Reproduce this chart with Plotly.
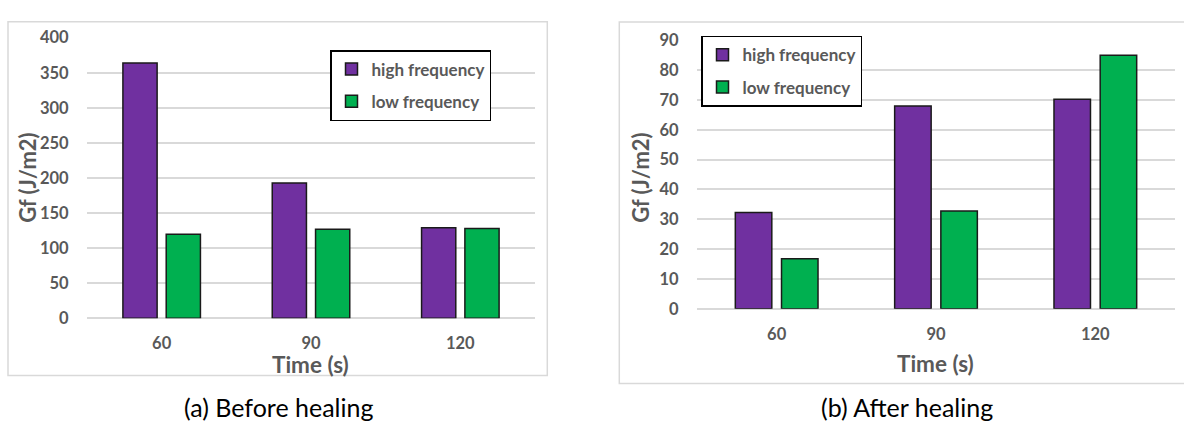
import plotly.graph_objects as go

# ---------------- data ----------------
categories = ["60", "90", "120"]
series_names = ["high frequency", "low frequency"]
before_high = [364, 193, 129]
before_low = [120, 127, 128]
after_high = [32.3, 68, 70.2]
after_low = [16.8, 32.8, 85]
left_yticks = [0, 50, 100, 150, 200, 250, 300, 350, 400]
right_yticks = [0, 10, 20, 30, 40, 50, 60, 70, 80, 90]
x_title = "Time (s)"
y_title = "Gf (J/m2)"
captions = ["(a) Before healing", "(b) After healing"]

# ---------------- styling ----------------
W, H = 1184, 432
PURPLE = "#7030A0"
GREEN = "#00B050"
GRID = "#d9d9d9"
GRAY = "#595959"
FONT = "Lato"


def px(x):
    return x / W


def py(y):
    return 1 - y / H


fig = go.Figure()

colors = [PURPLE, GREEN]
for name, vals, col, grp in zip(series_names, [before_high, before_low], colors, ["a1", "a2"]):
    fig.add_trace(go.Bar(
        x=categories, y=vals, name=name, xaxis="x", yaxis="y",
        marker=dict(color=col, line=dict(color="#1a1a1a", width=1.5)),
        legend="legend", legendgroup=grp,
    ))
for name, vals, col, grp in zip(series_names, [after_high, after_low], colors, ["b1", "b2"]):
    fig.add_trace(go.Bar(
        x=categories, y=vals, name=name, xaxis="x2", yaxis="y2",
        marker=dict(color=col, line=dict(color="#1a1a1a", width=1.5)),
        legend="legend2", legendgroup=grp,
    ))

tickfont = dict(family=FONT, size=16.5, color=GRAY, weight="bold")
xaxis_common = dict(type="category", showgrid=False, zeroline=False, showline=False,
                    ticks="outside", ticklen=10, tickcolor="rgba(0,0,0,0)",
                    tickfont=tickfont, fixedrange=True)
yaxis_common = dict(showgrid=True, gridcolor=GRID, gridwidth=1.5, zeroline=True,
                    zerolinecolor=GRID, zerolinewidth=1.5, showline=False,
                    ticks="outside", ticklen=14, tickcolor="rgba(0,0,0,0)",
                    tickfont=tickfont, fixedrange=True)

legend_common = dict(bordercolor="#000000", borderwidth=1.5, bgcolor="white",
                     font=dict(family=FONT, size=17, color=GRAY, weight="bold"),
                     traceorder="grouped", tracegroupgap=7,
                     xanchor="left", yanchor="top")

fig.update_layout(
    width=W, height=H,
    margin=dict(l=0, r=0, t=0, b=0),
    paper_bgcolor="white", plot_bgcolor="white",
    barmode="group", bargap=0.42, bargroupgap=0.21,
    font=dict(family=FONT, color=GRAY),
    xaxis=dict(domain=[px(87), px(535)], anchor="y", **xaxis_common),
    yaxis=dict(domain=[py(323.3), py(29)], anchor="x", range=[0, 400],
               tickvals=left_yticks, **yaxis_common),
    xaxis2=dict(domain=[px(697), px(1175)], anchor="y2", **xaxis_common),
    yaxis2=dict(domain=[py(313.3), py(31.7)], anchor="x2", range=[0, 90],
                tickvals=right_yticks, **yaxis_common),
    legend=dict(x=px(330), y=py(42), **legend_common),
    legend2=dict(x=px(701), y=py(27), **legend_common),
    showlegend=True,
)

# panel borders
fig.add_shape(type="rect", xref="paper", yref="paper", layer="below",
              x0=px(8), x1=px(547.3), y0=py(383.3), y1=py(12.3),
              line=dict(color=GRID, width=1.5), fillcolor="rgba(0,0,0,0)")
fig.add_shape(type="rect", xref="paper", yref="paper", layer="below",
              x0=px(619.3), x1=px(1195), y0=py(391.7), y1=py(12.7),
              line=dict(color=GRID, width=1.5), fillcolor="rgba(0,0,0,0)")

title_font = dict(family=FONT, size=22, color=GRAY, weight="bold")
# axis titles
for xc, yc in [(28, 176), (641, 176)]:
    fig.add_annotation(text=y_title, x=px(xc), y=py(yc), xref="paper", yref="paper",
                       textangle=-90, showarrow=False, font=title_font,
                       xanchor="center", yanchor="middle")
for xc, yc in [(310.5, 371.5), (935.5, 371)]:
    fig.add_annotation(text=x_title, x=px(xc), y=py(yc), xref="paper", yref="paper",
                       showarrow=False, font=dict(family=FONT, size=22.5, color=GRAY, weight="bold"),
                       xanchor="center", yanchor="middle")
# captions
for text, xc in zip(captions, [278, 906.7]):
    fig.add_annotation(text=text, x=px(xc), y=py(416.7), xref="paper", yref="paper",
                       showarrow=False, font=dict(family=FONT, size=25, color="#000000"),
                       xanchor="center", yanchor="middle")

fig.write_html("out.html", config={"displayModeBar": False})
